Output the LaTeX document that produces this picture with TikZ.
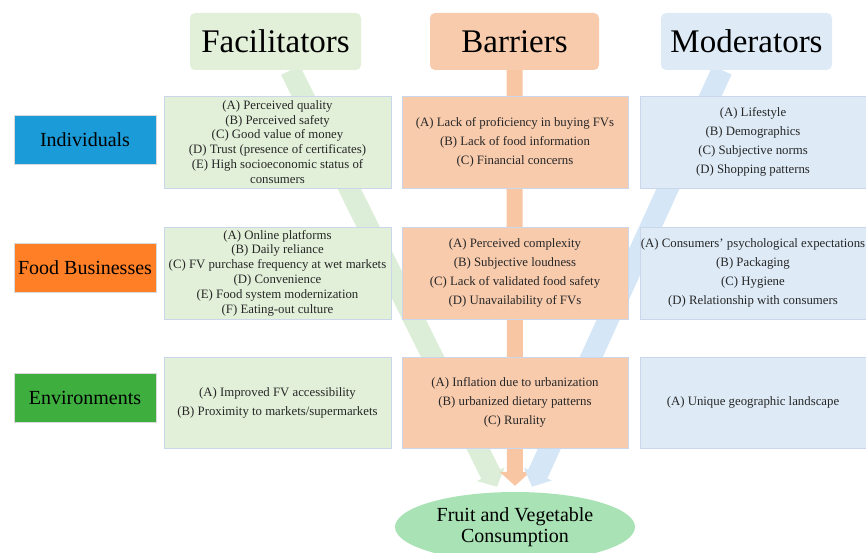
\documentclass[tikz,border=0pt]{standalone}
\usepackage{fontspec}
\setmainfont{Liberation Serif}
\usetikzlibrary{arrows.meta,shapes.geometric,backgrounds}
\definecolor{facfill}{HTML}{E2F0D9}
\definecolor{barfill}{HTML}{F8CBAD}
\definecolor{modfill}{HTML}{DEEBF7}
\definecolor{facarrow}{HTML}{DCEED7}
\definecolor{bararrow}{HTML}{F9C6A4}
\definecolor{modarrow}{HTML}{D5E7F6}
\definecolor{boxline}{HTML}{CAD6E9}
\definecolor{indfill}{HTML}{1B9BD7}
\definecolor{busfill}{HTML}{FF7F27}
\definecolor{envfill}{HTML}{3EAE3E}
\definecolor{fvcfill}{HTML}{A9E2B5}
\begin{document}
\begin{tikzpicture}[x=1pt,y=-1pt,
	head/.style={rounded corners=5pt, minimum height=57pt, inner sep=0pt, font=\fontsize{33}{36}\selectfont},
	level/.style={draw=white!70!gray, line width=0.5pt, minimum width=142pt, minimum height=49pt, inner sep=0pt, font=\fontsize{20}{22}\selectfont},
	item/.style={draw=boxline, line width=0.8pt, minimum width=226pt, minimum height=92pt, inner sep=0pt, align=center, text=black!85, font=\fontsize{12.8}{19}\selectfont},
	tight/.style={font=\fontsize{12.8}{14.8}\selectfont},
	pathway/.style={line width=#1, -{Triangle[width=30pt,length=14pt]}}
	]
	\useasboundingbox (0,0) rectangle (866,553);
	\clip (0,0) rectangle (866,553);
	% column heads
	\node[head, fill=facfill, minimum width=171pt] (fac) at (275.5,41.5) {Facilitators};
	\node[head, fill=barfill, minimum width=169pt] (bar) at (514.5,41.5) {Barriers};
	\node[head, fill=modfill, minimum width=171pt] (mod) at (746.5,41.5) {Moderators};
	% outcome
	\node[ellipse, fill=fvcfill, minimum width=240pt, minimum height=70pt, inner sep=0pt, align=center,
		font=\fontsize{20}{21}\selectfont] (fvc) at (515,527) {Fruit and Vegetable\\Consumption};
	% levels
	\node[level, fill=indfill] (ind) at (85,139.5) {Individuals};
	\node[level, fill=busfill] (bus) at (85,268) {Food Businesses};
	\node[level, fill=envfill] (env) at (85,397.5) {Environments};
	% facilitators
	\node[item, tight, fill=facfill, minimum width=227pt] (facind) at (277.5,142) {(A) Perceived quality\\(B) Perceived safety\\(C) Good value of money\\(D) Trust (presence of certificates)\\(E) High socioeconomic status of\\consumers};
	\node[item, tight, fill=facfill, minimum width=227pt] (facbus) at (277.5,273) {(A) Online platforms\\(B) Daily reliance\\(C) FV purchase frequency at wet markets\\(D) Convenience\\(E) Food system modernization\\(F) Eating-out culture};
	\node[item, fill=facfill, minimum width=227pt, minimum height=91pt] (facenv) at (277.5,402.5) {(A) Improved FV accessibility\\(B) Proximity to markets/supermarkets};
	% barriers
	\node[item, fill=barfill] (barind) at (515,142) {(A) Lack of proficiency in buying FVs\\(B) Lack of food information\\(C) Financial concerns};
	\node[item, fill=barfill] (barbus) at (515,273) {(A) Perceived complexity\\(B) Subjective loudness\\(C) Lack of validated food safety\\(D) Unavailability of FVs};
	\node[item, fill=barfill, minimum height=91pt] (barenv) at (515,402.5) {(A) Inflation due to urbanization\\(B) urbanized dietary patterns\\(C) Rurality};
	% moderators
	\node[item, fill=modfill] (modind) at (753,142) {(A) Lifestyle\\(B) Demographics\\(C) Subjective norms\\(D) Shopping patterns};
	\node[item, fill=modfill] (modbus) at (753,273) {(A) Consumers’ psychological expectations\\(B) Packaging\\(C) Hygiene\\(D) Relationship with consumers};
	\node[item, fill=modfill, minimum height=91pt] (modenv) at (753,402.5) {(A) Unique geographic landscape};
	% thick arrows behind the boxes
	\begin{scope}[on background layer]
		\draw[pathway=21pt, facarrow] ([xshift=15pt]fac.south) -- ([xshift=-18pt,yshift=5pt]fvc.north);
		\draw[pathway=16pt, bararrow] (bar.south) -- ([yshift=6pt]fvc.north);
		\draw[pathway=21pt, modarrow] ([xshift=-24.5pt]mod.south) -- ([xshift=17pt,yshift=5pt]fvc.north);
	\end{scope}
\end{tikzpicture}
\end{document}
